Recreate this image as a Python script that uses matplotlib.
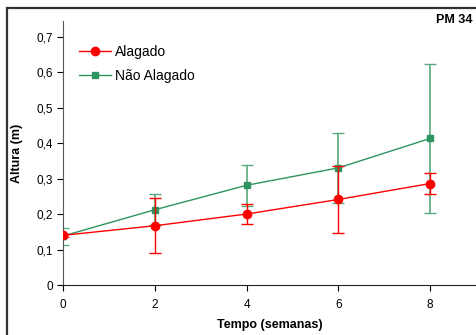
import matplotlib
matplotlib.use("Agg")
import matplotlib.pyplot as plt
from matplotlib.patches import Rectangle
from matplotlib.lines import Line2D
from matplotlib.ticker import FuncFormatter

plt.rcParams['font.family'] = ['Liberation Sans', 'DejaVu Sans']

weeks = [0, 2, 4, 6, 8]
alagado = [0.140, 0.167, 0.200, 0.241, 0.286]
alagado_err = [0.005, 0.078, 0.027, 0.094, 0.029]
nao_alagado = [0.138, 0.212, 0.281, 0.330, 0.413]
nao_alagado_err = [0.024, 0.044, 0.058, 0.098, 0.210]

red = '#ff0000'
green = '#2e9460'

fig = plt.figure(figsize=(4.77, 3.35), dpi=100)
fig.patches.append(Rectangle((7/477, -0.1), 1.2, (335-8)/335 + 0.1, transform=fig.transFigure,
                             fill=False, edgecolor='#333333', linewidth=1.6))
ax = fig.add_axes([63/477, 50/335, (476-63)/477, (285-21)/335])

ax.errorbar(weeks, nao_alagado, yerr=nao_alagado_err, color=green, marker='s', markersize=5,
            linewidth=1.0, elinewidth=1.2, capsize=4, capthick=1.0, ecolor='#5aa87e', zorder=2)
ax.errorbar(weeks, alagado, yerr=alagado_err, color=red, marker='o', markersize=6,
            linewidth=1.0, elinewidth=1.0, capsize=4, capthick=1.0, zorder=3)

ax.set_xlim(0, 9)
ax.set_ylim(0, 0.744)
ax.set_xticks([0, 2, 4, 6, 8])
ax.set_yticks([0, 0.1, 0.2, 0.3, 0.4, 0.5, 0.6, 0.7])
ax.yaxis.set_major_formatter(FuncFormatter(lambda v, p: '0' if v == 0 else f'{v:.1f}'.replace('.', ',')))
for s in ['top', 'right']:
    ax.spines[s].set_visible(False)
ax.spines['left'].set_color('#555555')
ax.spines['bottom'].set_color('#222222')
ax.tick_params(axis='both', labelsize=8.5, length=4, width=0.8, direction='out', pad=3)
ax.tick_params(axis='x', pad=6)
ax.set_xlabel('Tempo (semanas)', fontsize=9, fontweight='bold', labelpad=6)
ax.set_ylabel('Altura (m)', fontsize=9, fontweight='bold', labelpad=10)

handles = [Line2D([], [], color=red, marker='o', markersize=6, linewidth=1.0),
           Line2D([], [], color=green, marker='s', markersize=5, linewidth=1.0)]
ax.legend(handles, ['Alagado', 'Não Alagado'], loc='upper left', bbox_to_anchor=(0.015, 0.945),
          frameon=False, fontsize=10, handlelength=2.3, handletextpad=0.3, labelspacing=0.7,
          borderpad=0.2)

fig.text(473/477, 1 - 20/335, 'PM 34', ha='right', va='center', fontsize=9, fontweight='bold')

fig.savefig('out.png', dpi=100)
